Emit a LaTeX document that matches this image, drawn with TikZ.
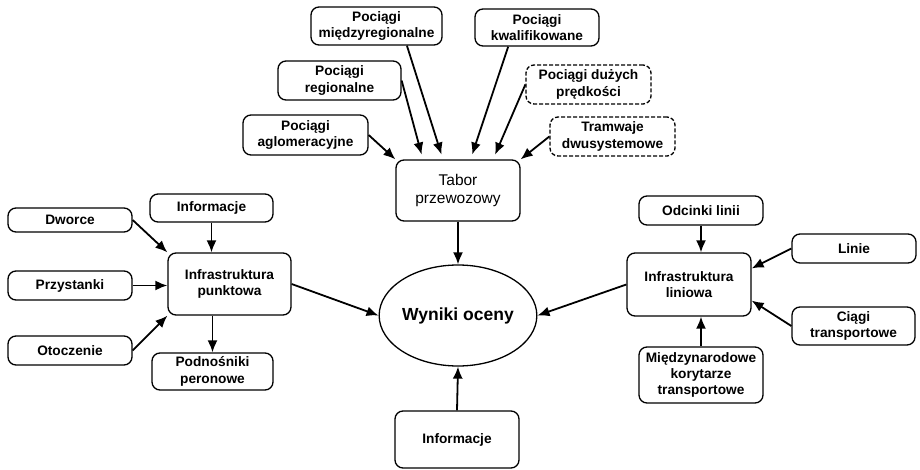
\documentclass[tikz,border=0pt]{standalone}
\usepackage{fontspec}
\setmainfont{Liberation Sans}
\usetikzlibrary{arrows.meta,shapes.geometric,calc}
\begin{document}
\begin{tikzpicture}[x=1pt,y=-1pt,
  box/.style={draw, line width=1.3pt, rounded corners=8pt, align=center, inner sep=0pt,
    font=\fontsize{13.7}{16.4}\selectfont\bfseries},
  dbox/.style={box, dash pattern=on 4pt off 2pt},
  arr/.style={line width=1.8pt, -{Latex[length=12pt,width=10pt]}},
  sh/.style={shorten >=5pt}]
\useasboundingbox (0,0) rectangle (920,470);
% top group
\node[box, minimum width=131pt, minimum height=38pt] (mr) at (376.5,26) {Pociągi\\międzyregionalne};
\node[box, minimum width=124pt, minimum height=37pt] (kw) at (537,27.5) {Pociągi\\kwalifikowane};
\node[box, minimum width=123pt, minimum height=39pt] (reg) at (339.5,80.5) {Pociągi\\regionalne};
\node[dbox, minimum width=125pt, minimum height=39pt] (dp) at (588.5,84.5) {Pociągi dużych\\prędkości};
\node[box, minimum width=125pt, minimum height=40pt] (agl) at (305.5,135) {Pociągi\\aglomeracyjne};
\node[dbox, minimum width=125pt, minimum height=39pt] (tram) at (612.5,136.5) {Tramwaje\\dwusystemowe};
\node[box, minimum width=124pt, minimum height=61pt, font=\fontsize{15.5}{18.5}\selectfont] (tab) at (458,190.5) {Tabor\\przewozowy};
% left group
\node[box, minimum width=124pt, minimum height=24pt] (dw) at (70,220) {Dworce};
\node[box, minimum width=123pt, minimum height=28pt] (inf1) at (211.5,208) {Informacje};
\node[box, minimum width=123pt, minimum height=62pt] (pkt) at (229.5,284) {Infrastruktura\\punktowa};
\node[box, minimum width=124pt, minimum height=29pt] (prz) at (70,285.5) {Przystanki};
\node[box, minimum width=124pt, minimum height=29pt] (oto) at (70,350.5) {Otoczenie};
\node[box, minimum width=121pt, minimum height=37pt] (pod) at (212.5,371.5) {Podnośniki\\peronowe};
% centre
\node[draw, ellipse, line width=1.3pt, minimum width=150pt, minimum height=101pt, inner sep=0pt,
  font=\fontsize{17.5}{20}\selectfont\bfseries] (wyn) at (458,315.5) {Wyniki oceny};
\node[box, minimum width=124pt, minimum height=57pt] (inf2) at (457,439.5) {Informacje};
% right group
\node[box, minimum width=124pt, minimum height=29pt] (odc) at (701,210.5) {Odcinki linii};
\node[box, minimum width=124pt, minimum height=63pt] (lin) at (689,284.5) {Infrastruktura\\liniowa};
\node[box, minimum width=124pt, minimum height=29pt] (linie) at (854,248.5) {Linie};
\node[box, minimum width=123pt, minimum height=38pt] (ciagi) at (853.5,326) {Ciągi\\transportowe};
\node[box, minimum width=124pt, minimum height=56pt] (mk) at (701,375) {Międzynarodowe\\korytarze\\transportowe};
% arrows into Tabor
\draw[arr] (agl.east) -- (tab.north west);
\draw[arr, sh] (reg.east) -- ($(tab.north west)!0.22!(tab.north east)$);
\draw[arr, sh] ($(mr.south west)!0.73!(mr.south east)$) -- ($(tab.north west)!0.38!(tab.north east)$);
\draw[arr, sh] ($(kw.south west)!0.27!(kw.south east)$) -- ($(tab.north west)!0.6!(tab.north east)$);
\draw[arr, sh] (dp.west) -- ($(tab.north west)!0.78!(tab.north east)$);
\draw[arr] (tram.west) -- (tab.north east);
% left arrows
\draw[arr] (dw.east) -- (pkt.north west);
\draw[arr] (inf1.south) -- (inf1.south |- pkt.north);
\draw[arr] (prz.east) -- (prz.east -| pkt.west);
\draw[arr] (oto.east) -- (pkt.south west);
\draw[arr] (pod.north |- pkt.south) -- (pod.north);
\draw[arr] (pkt.east) -- (wyn.west);
% centre arrows
\draw[arr] (tab.south) -- (wyn.north);
\draw[arr] (inf2.north) -- (wyn.south);
% right arrows
\draw[arr] (odc.south) -- (odc.south |- lin.north);
\draw[arr] (linie.west) -- ($(lin.north east)!0.25!(lin.south east)$);
\draw[arr] (ciagi.west) -- ($(lin.north east)!0.75!(lin.south east)$);
\draw[arr] (mk.north) -- (mk.north |- lin.south);
\draw[arr] (lin.west) -- (wyn.east);
\end{tikzpicture}
\end{document}
